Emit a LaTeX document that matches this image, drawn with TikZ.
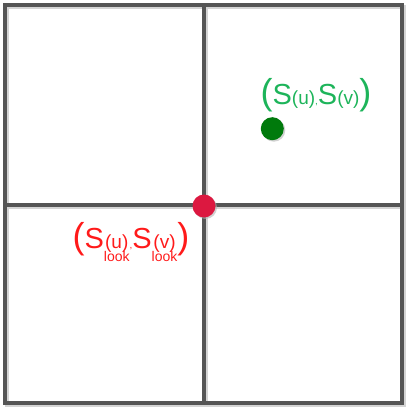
\documentclass[tikz,border=0pt]{standalone}
\usepackage{fontspec}
\setmainfont{Liberation Sans}
\usetikzlibrary{shadows}
\definecolor{gridgray}{HTML}{555555}
\definecolor{shadowgray}{HTML}{D4D4D4}
\definecolor{labelgreen}{HTML}{1DB45A}
\definecolor{dotgreen}{HTML}{007A0C}
\definecolor{labelred}{HTML}{FF1A1A}
\definecolor{dotred}{HTML}{DC1840}
\newcommand\bigp[1]{{\fontsize{36}{36}\selectfont #1}}
\newcommand\bigS{{\fontsize{29}{29}\selectfont S}}
\newcommand\smallp[1]{{\fontsize{19}{20}\selectfont #1}}
\newcommand\undertxt[2]{\vtop{\baselineskip=13pt\lineskiplimit=-30pt\lineskip=0pt\halign{\hfil##\hfil\cr\smallp{#1}\cr{\fontsize{14}{12}\selectfont #2}\cr}}}
\begin{document}
\begin{tikzpicture}[x=1pt,y=-1pt,
  gridline/.style={draw=gridgray,line width=4pt,line cap=rect},
  shadowline/.style={draw=shadowgray,line width=4pt,line cap=rect},
  dot/.style={circle,inner sep=0pt,minimum size=23pt,drop shadow={shadow xshift=1.5pt,shadow yshift=-1.5pt,fill=black!30,opacity=0.6}},
  lbl/.style={inner sep=0pt,anchor=base}]
\useasboundingbox (0,0) rectangle (408,411);
% shadows
\draw[shadowline] (6.5,7.5) rectangle (403.5,404.5);
\draw[shadowline] (205.7,7.5) -- (205.7,404.5);
\draw[shadowline] (6.5,207.5) -- (403.5,207.5);
% grid
\coordinate (tl) at (4.5,5.5);
\coordinate (br) at (401.5,402.5);
\coordinate (vt) at (203.7,5.5);
\coordinate (vb) at (203.7,402.5);
\coordinate (hl) at (4.5,205.5);
\coordinate (hr) at (401.5,205.5);
\draw[gridline] (tl) rectangle (br);
\draw[gridline] (vt) -- (vb);
\draw[gridline] (hl) -- (hr);
% dots
\node[dot,fill=dotred] (red) at (204,206) {};
\node[dot,fill=dotgreen] (green) at (272.3,128.7) {};
% labels
\node[lbl,text=labelgreen] (glabel) at (316,105)
  {\bigp{(}\bigS\smallp{(u)},\bigS\smallp{(v)}\bigp{)}};
\node[lbl,text=labelred] (rlabel) at (131,248)
  {\bigp{(}\bigS\undertxt{(u)}{look},\bigS\undertxt{(v)}{look}\bigp{)}};
\end{tikzpicture}
\end{document}
